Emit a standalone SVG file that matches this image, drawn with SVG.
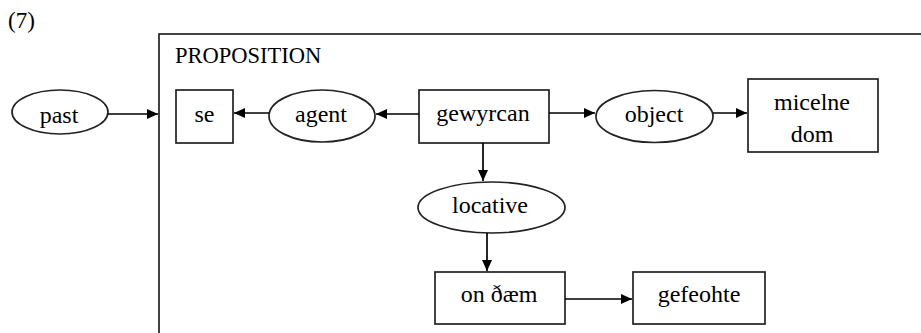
<svg xmlns="http://www.w3.org/2000/svg" width="921" height="333" viewBox="0 0 921 333">
<style>
text{font-family:'Liberation Serif','Times New Roman',Times,serif;font-size:24px;fill:#000}
.m{text-anchor:middle}
.s{fill:#fff;stroke:#222;stroke-width:1.7}
.c{fill:none;stroke:#000;stroke-width:1.7}
</style>
<defs>
<marker id="ah" markerUnits="userSpaceOnUse" markerWidth="12" markerHeight="12" refX="11" refY="6" orient="auto">
<path d="M0,1 L11,6 L0,11 Z" fill="#000"/>
</marker>
</defs>
<rect width="921" height="333" fill="#fff"/>
<text x="8" y="28" font-family="Liberation Serif, serif" style="font-size:23px">(7)</text>
<g id="proposition">
<rect x="159" y="34" width="800" height="320" fill="none" stroke="#222" stroke-width="1.7"/>
<text x="175" y="63" font-family="Liberation Serif, serif" style="font-size:22.5px">PROPOSITION</text>
</g>
<g id="past"><ellipse class="s" cx="60" cy="112" rx="48" ry="22"/><text class="m" x="59" y="123">past</text></g>
<g id="se"><rect class="s" x="176" y="90" width="57" height="53"/><text class="m" x="204.5" y="122">se</text></g>
<g id="agent"><ellipse class="s" cx="322" cy="116" rx="53" ry="26"/><text class="m" x="321" y="122">agent</text></g>
<g id="gewyrcan"><rect class="s" x="419" y="90" width="130" height="53"/><text class="m" x="483" y="121">gewyrcan</text></g>
<g id="object"><ellipse class="s" cx="654.5" cy="116.5" rx="58.5" ry="26"/><text class="m" x="654" y="122">object</text></g>
<g id="micelne-dom"><rect class="s" x="748" y="79" width="130" height="73"/><text class="m" x="812" y="110">micelne</text><text class="m" x="812" y="142">dom</text></g>
<g id="locative"><ellipse class="s" cx="491.5" cy="207.5" rx="73.5" ry="25.5"/><text class="m" x="490" y="213">locative</text></g>
<g id="on-daem"><rect class="s" x="435" y="272" width="130" height="52"/><text class="m" x="499" y="302">on ðæm</text></g>
<g id="gefeohte"><rect class="s" x="633" y="272" width="132" height="52"/><text class="m" x="699" y="302">gefeohte</text></g>
<g id="connectors">
<line class="c" x1="108" y1="114" x2="158" y2="114" marker-end="url(#ah)"/>
<line class="c" x1="269" y1="113" x2="234" y2="113" marker-end="url(#ah)"/>
<line class="c" x1="419" y1="114" x2="376" y2="114" marker-end="url(#ah)"/>
<line class="c" x1="549" y1="113" x2="595" y2="113" marker-end="url(#ah)"/>
<line class="c" x1="713" y1="113" x2="747" y2="113" marker-end="url(#ah)"/>
<line class="c" x1="483" y1="143" x2="483" y2="181" marker-end="url(#ah)"/>
<line class="c" x1="487" y1="233" x2="487" y2="271" marker-end="url(#ah)"/>
<line class="c" x1="565" y1="299" x2="632" y2="299" marker-end="url(#ah)"/>
</g>
</svg>
